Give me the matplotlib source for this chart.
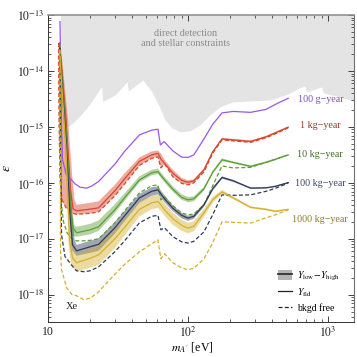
import matplotlib
matplotlib.use('Agg')
import matplotlib.pyplot as plt
from matplotlib.patches import Patch
from matplotlib.lines import Line2D
from matplotlib.ticker import FixedLocator, FuncFormatter, NullFormatter
import numpy as np

plt.rcParams['font.family'] = ['Liberation Serif', 'DejaVu Serif']
plt.rcParams['mathtext.fontset'] = 'stix'

# ---------------- data ----------------
MASS_BODY = [16, 20, 23, 30, 35, 45, 55, 61, 64, 68, 78, 90, 100, 110, 130, 150, 175, 210, 280, 360, 420, 520]
MASS_BKGD = [16, 18, 20, 23, 30, 35, 45, 55, 61, 64, 68, 78, 90, 100, 110, 130, 150, 175, 210, 280, 360, 420, 520]

# direct detection / stellar constraints (lower boundary)
GRAY_M = [12.28, 12.38, 12.59, 13.01, 13.9, 15.34, 16.93, 19.95, 24.18, 24.51, 30.1, 36.67, 37.58, 47.7, 49.3,
          55.3, 63.1, 68.5, 76.9, 87.7, 103.3, 121.8, 143.6, 169.3, 206.2, 277.3, 385.2, 518, 600.6, 685, 702,
          898.8, 928.8, 1218, 1534]
GRAY_EPS = [1e-13, 1.57e-14, 2.01e-15, 1.13e-15, 1.0e-15, 1.23e-15, 1.57e-15, 2.58e-15, 5.29e-15, 2.83e-15,
            3.73e-15, 6.37e-15, 4.40e-15, 6.9e-15, 6.1e-15, 4.22e-15, 2.18e-15, 1.33e-15, 9.6e-16, 8.15e-16,
            8.48e-16, 1.09e-15, 1.64e-15, 2.28e-15, 2.79e-15, 2.91e-15, 3.03e-15, 3.88e-15, 4.77e-15, 5.4e-15,
            4.22e-15, 5.18e-15, 4.05e-15, 3.43e-15, 2.91e-15]

# 100 g-year
PURPLE_M = [12.18, 12.49, 12.69, 13.45, 14.36, 15.59, 16.93, 18.9, 20.62, 23, 30, 35, 45, 55, 61, 63.5, 67.5,
            78, 90, 100, 110, 130, 150, 175, 210, 280, 360, 420, 520]
PURPLE_EPS = [7.59e-14, 8.84e-16, 2.58e-16, 1.45e-16, 1.21e-16, 9.6e-17, 8.37e-17, 8.04e-17, 8.83e-17, 1.06e-16,
              2.15e-16, 3.58e-16, 7.2e-16, 8.73e-16, 9.1e-16, 4.77e-16, 5.46e-16, 3.72e-16, 2.88e-16, 2.85e-16,
              3.16e-16, 6.1e-16, 1.11e-15, 1.78e-15, 1.89e-15, 1.82e-15, 2.05e-15, 2.52e-15, 3.25e-15]

# 1 kg-year
RED_FID_M = [12.08, 13.45, 14.48, 15.09] + MASS_BODY
RED_FID = [3.16e-14, 1.33e-15, 7.5e-17, 3.43e-17,
           3.16e-17, 3.39e-17, 3.58e-17, 7.2e-17, 1.155e-16, 2.42e-16, 3.16e-16, 3.36e-16, 2.68e-16, 2.23e-16,
           1.48e-16, 1.11e-16, 1.02e-16, 1.09e-16, 1.71e-16, 3.58e-16, 6.1e-16, 5.86e-16, 5.5e-16, 6.63e-16,
           7.82e-16, 9.9e-16]
RED_LOWY_M = [12.28, 13.9, 14.96, 15.47] + MASS_BODY
RED_LOWY = [3.16e-14, 1.33e-15, 1.13e-16, 4.97e-17,
            4.05e-17, 4.40e-17, 4.68e-17, 9.2e-17, 1.45e-16, 2.85e-16, 3.65e-16, 3.80e-16, 3.36e-16, 2.58e-16,
            1.71e-16, 1.23e-16, 1.11e-16, 1.155e-16, 1.82e-16, 3.73e-16, 6.37e-16, 6.11e-16, 5.74e-16, 6.9e-16,
            8.15e-16, 1.02e-15]
RED_HIGHY_M = [11.89, 11.99, 12.18, 12.59, 13.45, 15.0] + MASS_BODY
RED_HIGHY = [3.16e-14, 1.33e-15, 1.13e-16, 4.97e-17, 3.58e-17, 2.85e-17,
             2.74e-17, 2.85e-17, 3.03e-17, 5.86e-17, 9.4e-17, 2.05e-16, 2.74e-16, 2.91e-16, 1.85e-16, 2.18e-16,
             1.28e-16, 9.8e-17, 9.2e-17, 1.0e-16, 1.57e-16, 3.36e-16, 5.86e-16, 5.62e-16, 5.29e-16, 6.37e-16,
             7.5e-16, 9.6e-16]

# 10 kg-year
GREEN_FID_M = [12.08, 13.45, 14.48, 15.09] + MASS_BODY
GREEN_FID = [2.91e-14, 8.84e-16, 4.05e-17, 1.57e-17,
             1.28e-17, 1.45e-17, 1.64e-17, 3.30e-17, 5.29e-17, 1.13e-16, 1.51e-16, 1.59e-16, 1.36e-16, 1.13e-16,
             7.66e-17, 5.51e-17, 4.97e-17, 5.18e-17, 7.82e-17, 1.54e-16, 2.58e-16, 2.32e-16, 1.97e-16, 2.32e-16,
             2.63e-16, 3.16e-16]
GREEN_LOWY_M = [12.18, 13.67, 14.84, 15.47] + MASS_BODY
GREEN_LOWY = [2.91e-14, 8.84e-16, 3.58e-17, 1.71e-17,
              1.64e-17, 1.85e-17, 2.14e-17, 4.13e-17, 6.37e-17, 1.31e-16, 1.71e-16, 1.80e-16, 1.54e-16, 1.28e-16,
              8.66e-17, 6.23e-17, 5.62e-17, 5.74e-17, 8.48e-17, 1.64e-16, 2.74e-16, 2.42e-16, 2.05e-16, 2.40e-16,
              2.72e-16, 3.23e-16]
GREEN_HIGHY_M = [11.99, 13.34, 14.36, 14.96] + MASS_BODY
GREEN_HIGHY = [2.91e-14, 8.84e-16, 3.30e-17, 1.13e-17,
               1.09e-17, 1.20e-17, 1.39e-17, 2.85e-17, 4.68e-17, 1.02e-16, 1.36e-16, 1.44e-16, 1.23e-16, 1.02e-16,
               6.9e-17, 4.97e-17, 4.49e-17, 4.68e-17, 7.2e-17, 1.45e-16, 2.42e-16, 2.23e-16, 1.89e-16, 2.25e-16,
               2.54e-16, 3.10e-16]
GREEN_BKGD_M = [12.18, 12.28, 12.49, 12.9, 13.67, 14.84] + MASS_BKGD
GREEN_BKGD = [2.91e-14, 3.88e-16, 4.05e-17, 2.01e-17, 1.28e-17, 1.0e-17,
              9.2e-18, 9.2e-18, 9.4e-18, 1.0e-17, 1.93e-17, 3.10e-17, 6.63e-17, 8.84e-17, 9.2e-17, 4.97e-17,
              5.62e-17, 3.88e-17, 2.91e-17, 2.68e-17, 2.79e-17, 4.05e-17, 8.84e-17, 2.01e-16, 1.85e-16, 1.89e-16,
              2.32e-16, 2.63e-16, 3.16e-16]

# 100 kg-year
NAVY_FID_M = [12.08, 13.45, 14.36, 14.96] + MASS_BODY
NAVY_FID = [2.57e-14, 5.86e-16, 2.68e-17, 7.8e-18,
            6.1e-18, 7.2e-18, 7.98e-18, 1.57e-17, 2.52e-17, 5.4e-17, 7.05e-17, 7.5e-17, 6.37e-17, 5.18e-17,
            3.51e-17, 2.63e-17, 2.34e-17, 2.52e-17, 4.05e-17, 7.82e-17, 1.25e-16, 1.09e-16, 8.04e-17, 8.15e-17,
            8.66e-17, 1.01e-16]
NAVY_LOWY_M = [12.28, 13.78, 14.84, 15.47] + MASS_BODY
NAVY_LOWY = [2.57e-14, 5.86e-16, 2.68e-17, 9.6e-18,
             7.8e-18, 9.2e-18, 1.02e-17, 1.97e-17, 3.10e-17, 6.37e-17, 8.31e-17, 8.66e-17, 7.34e-17, 5.98e-17,
             3.96e-17, 2.91e-17, 2.58e-17, 2.74e-17, 4.31e-17, 8.31e-17, 1.31e-16, 1.13e-16, 8.31e-17, 8.31e-17,
             8.84e-17, 1.03e-16]
NAVY_HIGHY_M = [11.99, 13.22, 14.13, 14.72] + MASS_BODY
NAVY_HIGHY = [2.57e-14, 5.86e-16, 2.68e-17, 6.37e-18,
              4.97e-18, 5.62e-18, 6.1e-18, 1.23e-17, 2.01e-17, 4.40e-17, 5.86e-17, 6.23e-17, 5.4e-17, 4.49e-17,
              3.10e-17, 2.32e-17, 2.10e-17, 2.28e-17, 3.73e-17, 7.2e-17, 1.18e-16, 1.04e-16, 7.82e-17, 7.91e-17,
              8.41e-17, 9.92e-17]
NAVY_BKGD_M = [12.18, 12.28, 12.49, 13.22, 14.77] + MASS_BKGD
NAVY_BKGD = [2.57e-14, 3.88e-16, 1.18e-17, 4.83e-18, 3.36e-18,
             2.68e-18, 2.58e-18, 2.68e-18, 3.16e-18, 5.86e-18, 9.02e-18, 1.93e-17, 2.52e-17, 2.63e-17, 1.45e-17,
             1.57e-17, 1.09e-17, 8.84e-18, 8.38e-18, 9.02e-18, 1.33e-17, 2.68e-17, 6.1e-17, 5.98e-17, 6.1e-17,
             7.05e-17, 7.98e-17, 9.88e-17]

# 1000 kg-year
YELLOW_FID_M = [12.08, 13.45, 14.24, 14.96] + MASS_BODY
YELLOW_FID = [2.37e-14, 3.88e-16, 9.6e-18, 4.58e-18,
              3.73e-18, 4.49e-18, 5.18e-18, 1.0e-17, 1.57e-17, 3.36e-17, 4.40e-17, 4.63e-17, 4.05e-17, 3.30e-17,
              2.28e-17, 1.74e-17, 1.55e-17, 1.67e-17, 2.91e-17, 4.97e-17, 6.9e-17, 5.4e-17, 3.65e-17, 3.36e-17,
              3.10e-17, 3.36e-17]
YELLOW_LOWY_M = [12.28, 13.78, 14.72, 15.34] + MASS_BODY
YELLOW_LOWY = [2.37e-14, 3.88e-16, 1.18e-17, 6.37e-18,
               5.4e-18, 6.63e-18, 7.66e-18, 1.45e-17, 2.23e-17, 4.58e-17, 5.86e-17, 6.1e-17, 5.29e-17, 4.31e-17,
               2.91e-17, 2.18e-17, 1.93e-17, 2.05e-17, 3.43e-17, 5.62e-17, 7.5e-17, 5.74e-17, 3.80e-17, 3.51e-17,
               3.23e-17, 3.43e-17]
YELLOW_HIGHY_M = [11.99, 13.22, 14.01, 14.6] + MASS_BODY
YELLOW_HIGHY = [2.37e-14, 3.88e-16, 7.8e-18, 3.43e-18,
                2.58e-18, 3.03e-18, 3.43e-18, 6.76e-18, 1.13e-17, 2.52e-17, 3.36e-17, 3.58e-17, 3.16e-17, 2.58e-17,
                1.78e-17, 1.39e-17, 1.25e-17, 1.36e-17, 2.47e-17, 4.40e-17, 6.37e-17, 5.07e-17, 3.51e-17, 3.23e-17,
                2.97e-17, 3.30e-17]
YELLOW_BKGD_M = [12.18, 12.24, 12.28, 12.49, 13.6, 14.84] + MASS_BKGD
YELLOW_BKGD = [2.37e-14, 3.88e-16, 6.37e-18, 2.79e-18, 1.33e-18, 1.0e-18,
               9.6e-19, 8.15e-19, 8.66e-19, 1.13e-18, 2.32e-18, 3.43e-18, 5.86e-18, 8.15e-18, 9.6e-18, 4.40e-18,
               5.4e-18, 3.73e-18, 3.03e-18, 2.79e-18, 2.97e-18, 4.40e-18, 8.48e-18, 2.01e-17, 1.97e-17, 1.91e-17,
               2.37e-17, 2.68e-17, 3.30e-17]

EXPOSURE_LABELS = ['100 g\u2212year', '1 kg\u2212year', '10 kg\u2212year', '100 kg\u2212year', '1000 kg\u2212year']
X_MAJOR = [10, 100, 1000]
Y_MAJOR = [1e-18, 1e-17, 1e-16, 1e-15, 1e-14, 1e-13]

# ---------------- style ----------------
PURPLE = '#9d55ec'
RED = '#d8452e'
GREEN = '#5c9f37'
NAVY = '#2e3b58'
YELLOW = '#d5b02c'
LABEL_COLORS = ['#7b4db5', '#8e3b2b', '#40692b', '#3a4560', '#8d7b25']
LABEL_Y = [0.723, 0.641, 0.544, 0.451, 0.332]
LW = 0.9
DASH = (0, (3.2, 1.8))
XLIM = (10, 1534)
YLIM = (3.3e-19, 1e-13)

fig = plt.figure(figsize=(3.57, 3.57), dpi=100)
ax = fig.add_axes([0.1345, 0.0989, 0.8571, 0.8591])
ax.set_xscale('log')
ax.set_yscale('log')
ax.set_xlim(*XLIM)
ax.set_ylim(*YLIM)

# constraints
ax.fill_between(GRAY_M, GRAY_EPS, 1e-13, color='#e4e4e4', lw=0, zorder=1)
ax.text(0.449, 0.923, 'direct detection\nand stellar constraints', transform=ax.transAxes,
        ha='center', va='center', fontsize=7.3, color='#8a8a8a', linespacing=1.2, zorder=2)

def band(ax, m_lo, e_lo, m_hi, e_hi, color, alpha):
    xs = list(m_lo) + list(m_hi)[::-1]
    ys = list(e_lo) + list(e_hi)[::-1]
    ax.fill(xs, ys, color=color, alpha=alpha, lw=0, zorder=3)

band(ax, RED_LOWY_M, RED_LOWY, RED_HIGHY_M, RED_HIGHY, RED, 0.45)
band(ax, GREEN_LOWY_M, GREEN_LOWY, GREEN_HIGHY_M, GREEN_HIGHY, GREEN, 0.45)
band(ax, NAVY_LOWY_M, NAVY_LOWY, NAVY_HIGHY_M, NAVY_HIGHY, NAVY, 0.45)
band(ax, YELLOW_LOWY_M, YELLOW_LOWY, YELLOW_HIGHY_M, YELLOW_HIGHY, YELLOW, 0.45)

ax.plot(PURPLE_M, PURPLE_EPS, color=PURPLE, lw=LW, zorder=5)
ax.plot(RED_FID_M, RED_FID, color=RED, lw=LW, zorder=5)
ax.plot(RED_HIGHY_M, RED_HIGHY, color=RED, lw=LW, ls=DASH, zorder=5)
ax.plot(GREEN_FID_M, GREEN_FID, color=GREEN, lw=LW, zorder=5)
ax.plot(GREEN_BKGD_M, GREEN_BKGD, color=GREEN, lw=LW, ls=DASH, zorder=5)
ax.plot(NAVY_FID_M, NAVY_FID, color=NAVY, lw=LW, zorder=5)
ax.plot(NAVY_BKGD_M, NAVY_BKGD, color=NAVY, lw=LW, ls=DASH, zorder=5)
ax.plot(YELLOW_FID_M, YELLOW_FID, color=YELLOW, lw=LW, zorder=5)
ax.plot(YELLOW_BKGD_M, YELLOW_BKGD, color=YELLOW, lw=LW, ls=DASH, zorder=5)

for lab, col, yy in zip(EXPOSURE_LABELS, LABEL_COLORS, LABEL_Y):
    ax.text(0.89, yy, lab, transform=ax.transAxes, ha='center', va='center',
            fontsize=7.2, color=col, zorder=6)

ax.text(0.0775, 0.05, 'Xe', transform=ax.transAxes, ha='center', va='center', fontsize=7.5, color='#222222')

# legend
h_band = (Patch(facecolor='#b4b4b4', edgecolor='none'), Line2D([], [], color='#333333', lw=1.3))
h_fid = Line2D([], [], color='#222222', lw=LW)
h_bk = Line2D([], [], color='#222222', lw=LW, ls=DASH)
leg = ax.legend([h_band, h_fid, h_bk],
                [r'$Y_{\rm low}\!-\!Y_{\rm high}$', r'$Y_{\rm fid}$', 'bkgd free'],
                loc='upper left', bbox_to_anchor=(0.752, 0.17), frameon=False, fontsize=7,
                handlelength=1.45, handleheight=1.1, handletextpad=0.45, labelspacing=0.38,
                borderpad=0, borderaxespad=0)

# axes styling: only ticks inside the view
x_minor = [k * d for d in (10, 100, 1000) for k in range(2, 10) if XLIM[0] < k * d < XLIM[1]]
y_minor = [k * d for d in (1e-19, 1e-18, 1e-17, 1e-16, 1e-15, 1e-14) for k in range(2, 10)
           if YLIM[0] < k * d < YLIM[1]]
ax.xaxis.set_major_locator(FixedLocator(X_MAJOR))
ax.xaxis.set_minor_locator(FixedLocator(x_minor))
ax.yaxis.set_major_locator(FixedLocator(Y_MAJOR))
ax.yaxis.set_minor_locator(FixedLocator(y_minor))
ax.xaxis.set_minor_formatter(NullFormatter())
ax.yaxis.set_minor_formatter(NullFormatter())

def xfmt(v, _):
    n = int(round(np.log10(v)))
    return '10' if n == 1 else r'$10^{%d}$' % n

def yfmt(v, _):
    return r'$10^{%d}$' % int(round(np.log10(v)))

ax.xaxis.set_major_formatter(FuncFormatter(xfmt))
ax.yaxis.set_major_formatter(FuncFormatter(yfmt))

ax.tick_params(which='both', direction='in', top=True, right=True, labelsize=8.5, colors='#222222')
ax.tick_params(which='major', length=4, width=0.6)
ax.tick_params(which='minor', length=2, width=0.5)
ax.tick_params(axis='y', pad=2.5)
ax.tick_params(axis='x', pad=3)
for s in ['left', 'bottom']:
    ax.spines[s].set_color('#333333')
    ax.spines[s].set_linewidth(0.7)
ax.spines['top'].set_color('#909090')
ax.spines['top'].set_linewidth(1.2)
ax.spines['right'].set_color('#707070')
ax.spines['right'].set_linewidth(0.8)

ax.set_xlabel(r"$m_{A'}$ [eV]", fontsize=8.5)
ax.xaxis.set_label_coords(0.47, -0.06)
ax.set_ylabel(r'$\epsilon$', fontsize=10, rotation=90)
ax.yaxis.set_label_coords(-0.115, 0.5)

fig.savefig('out.png', dpi=100)
